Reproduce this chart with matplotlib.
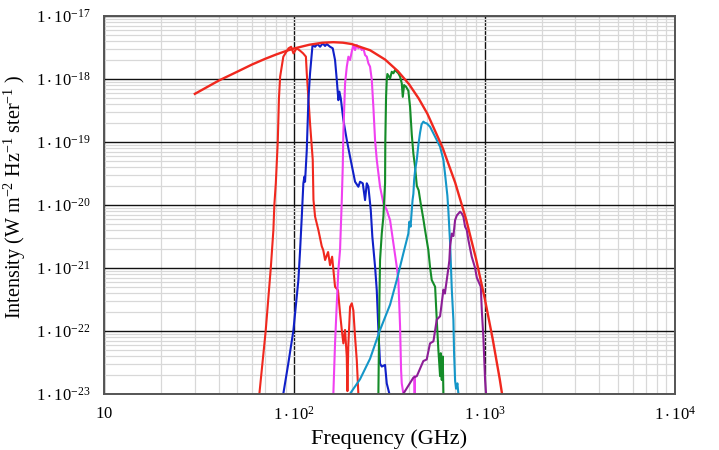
import matplotlib
matplotlib.use("Agg")
import matplotlib.pyplot as plt
import numpy as np
from matplotlib.ticker import FixedLocator, FixedFormatter, LogLocator, NullFormatter

plt.rcParams.update({
    "font.family": "serif",
    "font.serif": ["Liberation Serif", "DejaVu Serif"],
    "mathtext.fontset": "custom",
    "mathtext.rm": "Liberation Serif",
    "mathtext.it": "Liberation Serif:italic",
})

# blackbody curve (GHz, W m^-2 Hz^-1 sr^-1)
bb_f = [30, 40, 50, 60, 70, 80, 90, 100, 120, 140, 160, 180, 200, 250, 300, 350,
        400, 450, 500, 600, 700, 800, 900, 1000, 1100, 1200, 1240]
bb_I = [5.8e-19, 9.4e-19, 1.3e-18, 1.7e-18, 2.08e-18, 2.44e-18, 2.77e-18, 3.06e-18,
        3.5e-18, 3.76e-18, 3.84e-18, 3.77e-18, 3.59e-18, 2.86e-18, 2.03e-18, 1.33e-18,
        8.3e-19, 4.9e-19, 2.8e-19, 8.2e-20, 2.25e-20, 5.8e-21, 1.4e-21, 3.3e-22,
        7.6e-23, 1.7e-23, 9e-24]

# band 1 (red)
red_f = [62, 65.5, 70.7, 75.2, 77.6, 78.5, 79.9, 81.8, 83.0, 84.2, 87.5, 93.2, 96.2,
         98.9, 102.8, 107.2, 111.2, 115.0, 116.2, 120.9, 124.9, 126.0, 128.5, 133.7,
         139.3, 141.9, 145.0, 150.4, 154.0, 157.9, 163.6, 169.5, 173.8, 177.5, 180.9,
         184.6, 188.5, 190.0, 192.0, 196.2, 200.3, 204.2, 208.4, 212.8, 216.9, 220]
red_I = [5e-24, 1e-23, 1e-22, 1e-21, 4e-21, 1e-20, 2.2e-20, 1e-19, 5e-19, 1.09e-18,
         2.26e-18, 3.07e-18, 3.25e-18, 2.55e-18, 3.07e-18, 2.81e-18, 2.55e-18, 2.26e-18,
         1.23e-18, 1.97e-19, 5.2e-20, 1.2e-20, 6.5e-21, 4e-21, 2.2e-21, 1.9e-21,
         1.33e-21, 1.78e-21, 1.1e-21, 1.5e-21, 5e-22, 4.4e-22, 1.9e-22, 1.03e-22,
         6.3e-23, 1.03e-22, 3.9e-23, 1.1e-23, 5.6e-23, 2.4e-22, 2.73e-22, 2.1e-22,
         8e-23, 3.4e-23, 1e-23, 5e-24]

# band 2 (blue)
blue_f = [85, 87.5, 92.9, 98.8, 105.0, 107.2, 109.4, 111.5, 112.9, 113.8, 115.2, 116.2,
          118.5, 120.9, 124.6, 128.5, 132.1, 136.5, 141.0, 145.0, 148.0, 154.0, 159.1,
          163.6, 167.1, 170.3, 172.4, 175.4, 180.9, 188.6, 196.2, 204.2, 208.4, 216.9,
          221.4, 228.8, 235.2, 240.2, 244.9, 252.0, 256.9, 265.5, 271.0, 276.4, 282.0,
          287.9, 299.6, 305.8, 315.6, 322]
blue_I = [5e-24, 1e-23, 3e-23, 1e-22, 6.4e-22, 1.92e-21, 6.5e-21, 2.2e-20, 2.8e-20,
          2.33e-20, 4.57e-20, 7.4e-20, 4.6e-19, 1.23e-18, 3.46e-18, 3.25e-18, 3.59e-18,
          3.25e-18, 3.68e-18, 3.34e-18, 3.59e-18, 3.25e-18, 3.07e-18, 2.0e-18, 9.6e-19,
          4.6e-19, 6.3e-19, 4.9e-19, 2.23e-19, 1.07e-19, 5.8e-20, 3.17e-20, 2.33e-20,
          1.94e-20, 2.33e-20, 2.2e-20, 1.19e-20, 2.2e-20, 1.94e-20, 8.3e-21, 3.12e-21,
          1.04e-21, 4.4e-22, 1.03e-22, 3.0e-23, 2.7e-23, 2.86e-23, 1.46e-23, 1e-23, 5e-24]

# band 3 (magenta)
mag_f = [158, 160.3, 163.6, 167.1, 170.3, 173.8, 177.5, 179.6, 180.9, 184.7, 188.6,
         192.3, 196.2, 200.3, 204.2, 208.4, 212.8, 216.9, 221.4, 226.0, 230.5, 235.2,
         240.2, 244.9, 249.9, 255.2, 260.1, 265.5, 271.0, 282.0, 293.6, 305.8, 318.4,
         331.4, 345.2, 352.0, 359.3, 363.7, 366.7, 373.9, 378]
mag_I = [5e-24, 1e-23, 6.3e-23, 2.73e-22, 9.2e-22, 1.92e-21, 1.19e-20, 4.04e-20,
         1.37e-19, 8.5e-19, 1.57e-18, 2.26e-18, 2.0e-18, 2.71e-18, 3.46e-18, 2.88e-18,
         3.46e-18, 3.07e-18, 3.25e-18, 2.88e-18, 3.07e-18, 2.4e-18, 2.26e-18, 1.77e-18,
         1.57e-18, 9.6e-19, 3.6e-19, 1.07e-19, 5.2e-20, 1.94e-20, 1.06e-20, 8.3e-21,
         5.7e-21, 2.45e-21, 1.04e-21, 6.4e-22, 1.16e-22, 2.38e-23, 1.46e-23, 1e-23, 5e-24]
mag_spike_f = [427, 428.5, 429.5, 430.5]
mag_spike_I = [8e-24, 1.9e-23, 1.3e-23, 8e-24]

# band 4 (green)
green_f = [274, 276.4, 279.8, 282.0, 287.9, 293.6, 296.5, 299.6, 300.5, 303.3, 305.8,
           308.1, 318.4, 325.0, 331.4, 338.3, 345.2, 352.0, 359.3, 366.8, 371.2, 377.2,
           386.4, 397.2, 405.5, 414.0, 422.1, 430.8, 440.0, 450.0, 460.0, 476.0, 486.0,
           506.0, 516.0, 527.0, 549.0, 560.0, 571.0, 583.0, 588.0, 595.0, 602.0, 607.0, 610]
green_I = [5e-24, 1e-23, 3.1e-22, 1.33e-21, 3.5e-21, 6.5e-21, 1.2e-20, 2.2e-20, 1.0e-19,
           5.2e-19, 9.6e-19, 1.2e-18, 1.02e-18, 1.3e-18, 1.23e-18, 1.39e-18, 1.3e-18,
           1.23e-18, 1.09e-18, 8.5e-19, 5.2e-19, 8.0e-19, 7.5e-19, 6.5e-19, 3.6e-19,
           1.3e-19, 6.5e-20, 4.0e-20, 2.0e-20, 1.7e-20, 1.1e-20, 6e-21, 4e-21, 1.9e-21,
           1.04e-21, 6.4e-22, 5e-22, 1.5e-22, 5e-23, 1.9e-23, 4.4e-23, 1.65e-23, 3.9e-23,
           1e-23, 5e-24]

# band 5 (cyan)
cyan_f = [190, 196.2, 221.4, 249.9, 282.0, 318.4, 345.2, 373.9, 397.2, 402.0, 408.0,
          414.0, 418.0, 422.1, 426.0, 430.8, 439.8, 448.4, 457.6, 466.0, 476.3, 486.0,
          496.3, 516.4, 537.6, 560.1, 582.9, 606.7, 618.5, 636.8, 644.6, 652.5, 658.1,
          671.8, 684.9, 690.7, 699.2, 707.6, 718.9, 727.6, 735]
cyan_I = [5e-24, 1e-23, 1.7e-23, 3.6e-23, 1.03e-22, 2.6e-22, 6.4e-22, 1.7e-21, 3.5e-21,
          5.4e-21, 4.5e-21, 8.3e-21, 1.2e-20, 1.5e-20, 2.5e-20, 3.5e-20, 5.2e-20, 9e-20,
          1.4e-19, 1.9e-19, 2.1e-19, 2.0e-19, 1.97e-19, 1.74e-19, 1.37e-19, 1.07e-19,
          8.4e-20, 5.2e-20, 3.17e-20, 1.4e-20, 8e-21, 4e-21, 2.5e-21, 4.5e-22, 1.48e-22,
          4.4e-23, 1.6e-23, 1.2e-23, 1.46e-23, 1e-23, 5e-24]

# band 6 (purple)
pur_f = [365, 373.9, 422.0, 440.0, 476.0, 496.0, 516.0, 538.0, 560.0, 583.0, 607.0,
         618.0, 632.0, 645.0, 652.0, 658.0, 672.0, 685.0, 699.0, 714.0, 743.0, 758.0,
         773.0, 789.0, 805.0, 821.0, 855.0, 890.0, 909.0, 954.0, 966.0, 984.0, 1005.0,
         1017.0, 1025]
pur_I = [5e-24, 1e-23, 1.8e-23, 1.9e-23, 3.3e-23, 3.5e-23, 6.3e-23, 6.8e-23, 1.5e-22,
         1.7e-22, 4.5e-22, 3.9e-22, 6.4e-22, 1.0e-21, 1.3e-21, 2.2e-21, 3.5e-21, 3.2e-21,
         5.7e-21, 6.8e-21, 7.8e-21, 7.3e-21, 6.5e-21, 4.5e-21, 4e-21, 2.77e-21, 1.5e-21,
         1.0e-21, 7e-22, 5e-22, 2.1e-22, 8e-23, 1.65e-23, 1e-23, 5e-24]

x_ticks = [10, 100, 1000, 10000]
x_labels = [r"$\mathregular{10}$", r"$\mathregular{1\cdot10^{2}}$",
            r"$\mathregular{1\cdot10^{3}}$", r"$\mathregular{1\cdot10^{4}}$"]
y_ticks = [1e-23, 1e-22, 1e-21, 1e-20, 1e-19, 1e-18, 1e-17]
y_labels = [r"$\mathregular{1\cdot10^{%d}}$" % e for e in range(-23, -16)]

fig = plt.figure(figsize=(7.19, 4.5), dpi=100)
ax = fig.add_axes([0.1447, 0.1251, 0.7941, 0.8393])

lw = 1.5
ax.plot(red_f, red_I, color="#f0281e", lw=lw)
ax.plot(blue_f, blue_I, color="#1020c8", lw=lw)
ax.plot(mag_f, mag_I, color="#f040f0", lw=lw)
ax.plot(mag_spike_f, mag_spike_I, color="#f040f0", lw=lw)
ax.plot(green_f, green_I, color="#148c28", lw=lw)
ax.plot(cyan_f, cyan_I, color="#1496c8", lw=lw)
ax.plot(pur_f, pur_I, color="#8c1e96", lw=lw)
ax.plot(bb_f, bb_I, color="#f0281e", lw=1.7)

ax.set_xscale("log")
ax.set_yscale("log")
ax.set_xlim(10, 1e4)
ax.set_ylim(1e-23, 1e-17)

ax.xaxis.set_major_locator(FixedLocator(x_ticks))
ax.xaxis.set_major_formatter(FixedFormatter(x_labels))
ax.yaxis.set_major_locator(FixedLocator(y_ticks))
ax.yaxis.set_major_formatter(FixedFormatter(y_labels))
ax.xaxis.set_minor_locator(LogLocator(base=10, subs=np.arange(2, 10), numticks=20))
ax.yaxis.set_minor_locator(LogLocator(base=10, subs=np.arange(2, 10), numticks=20))
ax.xaxis.set_minor_formatter(NullFormatter())
ax.yaxis.set_minor_formatter(NullFormatter())

ax.grid(which="minor", color="#d8d8d8", lw=0.9)
ax.grid(which="major", color="#111111", lw=1.0)
ax.set_axisbelow(True)
ax.tick_params(which="both", length=0, labelsize=12)
ax.tick_params(axis="x", pad=9)
ax.tick_params(axis="y", pad=10)
for s in ax.spines.values():
    s.set_color("#555555")
    s.set_linewidth(1.4)

ax.set_xlabel("Frequency (GHz)", fontsize=16, labelpad=4)
ax.set_ylabel(r"Intensity (W m$^{\mathregular{-2}}$ Hz$^{\mathregular{-1}}$ ster$^{\mathregular{-1}}$ )",
              fontsize=14.5)
ax.yaxis.set_label_coords(-0.133, 0.52)

fig.savefig("out.png", dpi=100)
